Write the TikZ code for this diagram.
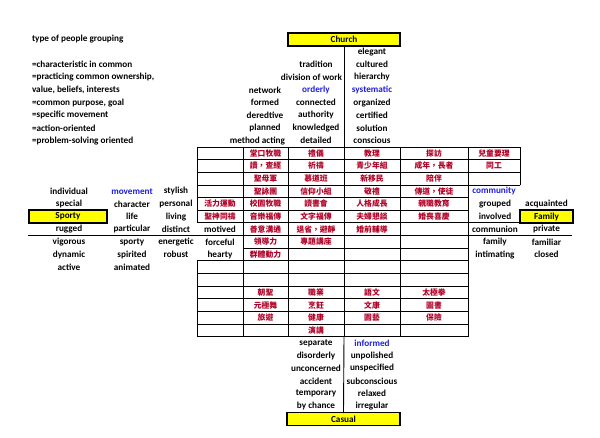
\documentclass[tikz,border=0pt]{standalone}
\usepackage{fontspec}
\setmainfont{Carlito}
\newfontfamily\cjkf{Noto Sans CJK TC}
\definecolor{myred}{RGB}{176,0,36}
\definecolor{myblue}{RGB}{30,30,225}
\definecolor{myyellow}{RGB}{255,255,0}
\begin{document}
\begin{tikzpicture}[x=1pt,y=-12.65pt,
  every node/.style={inner sep=0pt, outer sep=0pt},
  txt/.style={font=\fontsize{9.2}{10}\selectfont\bfseries, text=black},
  blu/.style={txt, text=myblue},
  cjk/.style={font=\fontsize{7.8}{9}\selectfont\cjkf\bfseries, text=myred},
  gridl/.style={line width=0.9pt, line cap=rect},
  thickl/.style={line width=1.7pt},
  ybox/.style={txt, draw, line width=1.6pt, fill=myyellow, minimum height=12.65pt}]
\useasboundingbox (0,-3.1225) rectangle (600,31.502);

% ---------- left explanatory text ----------
\node[txt, anchor=west] (title) at (32,0) {type of people grouping};
\foreach \r/\t [count=\i] in {2/=characteristic in common,
  3/{=practicing common ownership,},
  4/{value, beliefs, interests},
  5/{=common purpose, goal},
  6/=specific movement,
  7/=action-oriented,
  8/=problem-solving oriented}
  \node[txt, anchor=west] (def\i) at (32,\r) {\t};

% ---------- yellow boxes ----------
\node[ybox, minimum width=112pt] (church) at (344,0) {Church};
\node[ybox, minimum width=78pt] (sporty) at (68,14) {Sporty};
\node[ybox, minimum width=53pt] (family) at (546.5,14) {Family};
\node[ybox, minimum width=113pt] (casual) at (343.5,30) {Casual};

% ---------- upper word columns ----------
\foreach \r/\t [count=\i] in {4/network,5/formed,6/deredtive,7/planned}
  \node[txt] (ub\i) at (265,\r) {\t};
\node[txt, anchor=east] (ub5) at (285,8) {method acting};
\foreach \r/\t [count=\i] in {2/tradition,5/connected,6/authority,7/knowledged,8/detailed}
  \node[txt] (uc\i) at (316,\r) {\t};
\node[txt, anchor=east] (uc6) at (342,3) {division of work};
\node[blu] (uc7) at (316,4) {orderly};
\foreach \r/\t [count=\i] in {1/elegant,2/cultured,3/hierarchy,5/organized,6/certified,7/solution,8/conscious}
  \node[txt] (ud\i) at (372,\r) {\t};
\node[blu] (ud8) at (372,4) {systematic};

% ---------- left word columns ----------
\foreach \r/\t [count=\i] in {13/special,15/rugged,16/vigorous,17/dynamic,18/active,12/individual}
  \node[txt] (la\i) at (69,\r) {\t};
\foreach \r/\t [count=\i] in {13/character,14/life,15/particular,16/sporty,17/spirited,18/animated}
  \node[txt] (lb\i) at (132,\r) {\t};
\node[blu] (lb7) at (132,12) {movement};
\foreach \r/\t [count=\i] in {12/stylish,13/personal,14/living,15/distinct,16/energetic,17/robust}
  \node[txt] (lc\i) at (176,\r) {\t};
\foreach \r/\t [count=\i] in {15/motived,16/forceful,17/hearty}
  \node[txt] (ld\i) at (220,\r) {\t};

% ---------- right word columns ----------
\node[blu] (rf1) at (494,12) {community};
\foreach \r/\t [count=\i] in {13/grouped,14/involved,15/communion,16/family,17/intimating}
  \node[txt] (rf\the\numexpr\i+1\relax) at (495,\r) {\t};
\foreach \r/\t [count=\i] in {13/acquainted,15/private,16/familiar,17/closed}
  \node[txt] (rg\i) at (546.5,\r) {\t};

% ---------- lower word columns ----------
\foreach \r/\t [count=\i] in {24/separate,25/disorderly,26/unconcerned,27/accident,28/temporary,29/by chance}
  \node[txt] (lo\i) at (316,\r) {\t};
\foreach \r/\t [count=\i] in {25/unpolished,26/unspecified,27/subconscious,28/relaxed,29/irregular}
  \node[txt] (ro\i) at (372,\r) {\t};
\node[blu] (ro6) at (372,24) {informed};

% ---------- Chinese cells ----------
\foreach \x/\r/\t [count=\i] in {
  220/13/活力運動, 220/14/聖神同禱,
  265.5/9/堂口牧職, 265.5/10/讀，查經, 265.5/11/聖母軍, 265.5/12/聖詠團,
  265.5/13/校園牧職, 265.5/14/音樂福傳, 265.5/15/善意溝通, 265.5/16/領導力,
  265.5/17/群體動力, 265.5/20/朝聖, 265.5/21/元極舞, 265.5/22/旅遊,
  316/9/禮儀, 316/10/祈禱, 316/11/慕道班, 316/12/信仰小組, 316/13/讀書會,
  316/14/文字福傳, 316/15/退省，避靜, 316/16/專題講座, 316/20/職業,
  316/21/烹飪, 316/22/健康, 316/23/演講,
  372/9/教理, 372/10/青少年組, 372/11/新移民, 372/12/敬禮, 372/13/人格成長,
  372/14/夫婦懇談, 372/15/婚前輔導, 372/20/語文, 372/21/文康, 372/22/園藝,
  434/9/探訪, 434/10/成年，長者, 434/11/陪伴, 434/12/傳道，使徒,
  434/13/親職教育, 434/14/婚喪喜慶, 434/20/太極拳, 434/21/圖書, 434/22/保險,
  494/9/兒童要理, 494/10/同工}
  \node[cjk] (zh\i) at (\x,\r) {\t};

% ---------- table grid ----------
\begin{scope}[gridl]
  % rows 1-3, columns A-F
  \foreach \r in {8.5,9.5,10.5,11.5} \draw (197,\r) -- (520,\r);
  \foreach \x in {197,243,288,344,400,520} \draw (\x,8.5) -- (\x,11.5);
  % rows 4-6, columns A-E
  \foreach \r in {12.5,13.5,14.5} \draw (197,\r) -- (468,\r);
  \foreach \x in {197,243,288,344,400} \draw (\x,11.5) -- (\x,14.5);
  \draw (468,14.5) -- (520,14.5);
  % row 7, columns B-E
  \foreach \x in {243,288,344,400} \draw (\x,14.5) -- (\x,15.5);
  % rows 8-9, columns B-E
  \foreach \r in {16.5} \draw (243,\r) -- (468,\r);
  \foreach \x in {243,288,344,400} \draw (\x,15.5) -- (\x,17.5);
  % rows 10-15, columns A-E
  \foreach \r in {17.5,18.5,19.5,20.5,21.5,22.5,23.5} \draw (197,\r) -- (468,\r);
  \foreach \x in {197,243,288,344,400} \draw (\x,17.5) -- (\x,23.5);
  % long divider at column F
  \draw (468,8.5) -- (468,23.5);
\end{scope}
\draw[thickl] (28,15.5) -- (572,15.5);

% ---------- central axis ----------
\coordinate (ttop) at (344,8.5);
\coordinate (tbot) at (344,23.5);
\draw[gridl] (church.south) -- (ttop);
\draw[gridl] (tbot) -- (casual.north);
\end{tikzpicture}
\end{document}
